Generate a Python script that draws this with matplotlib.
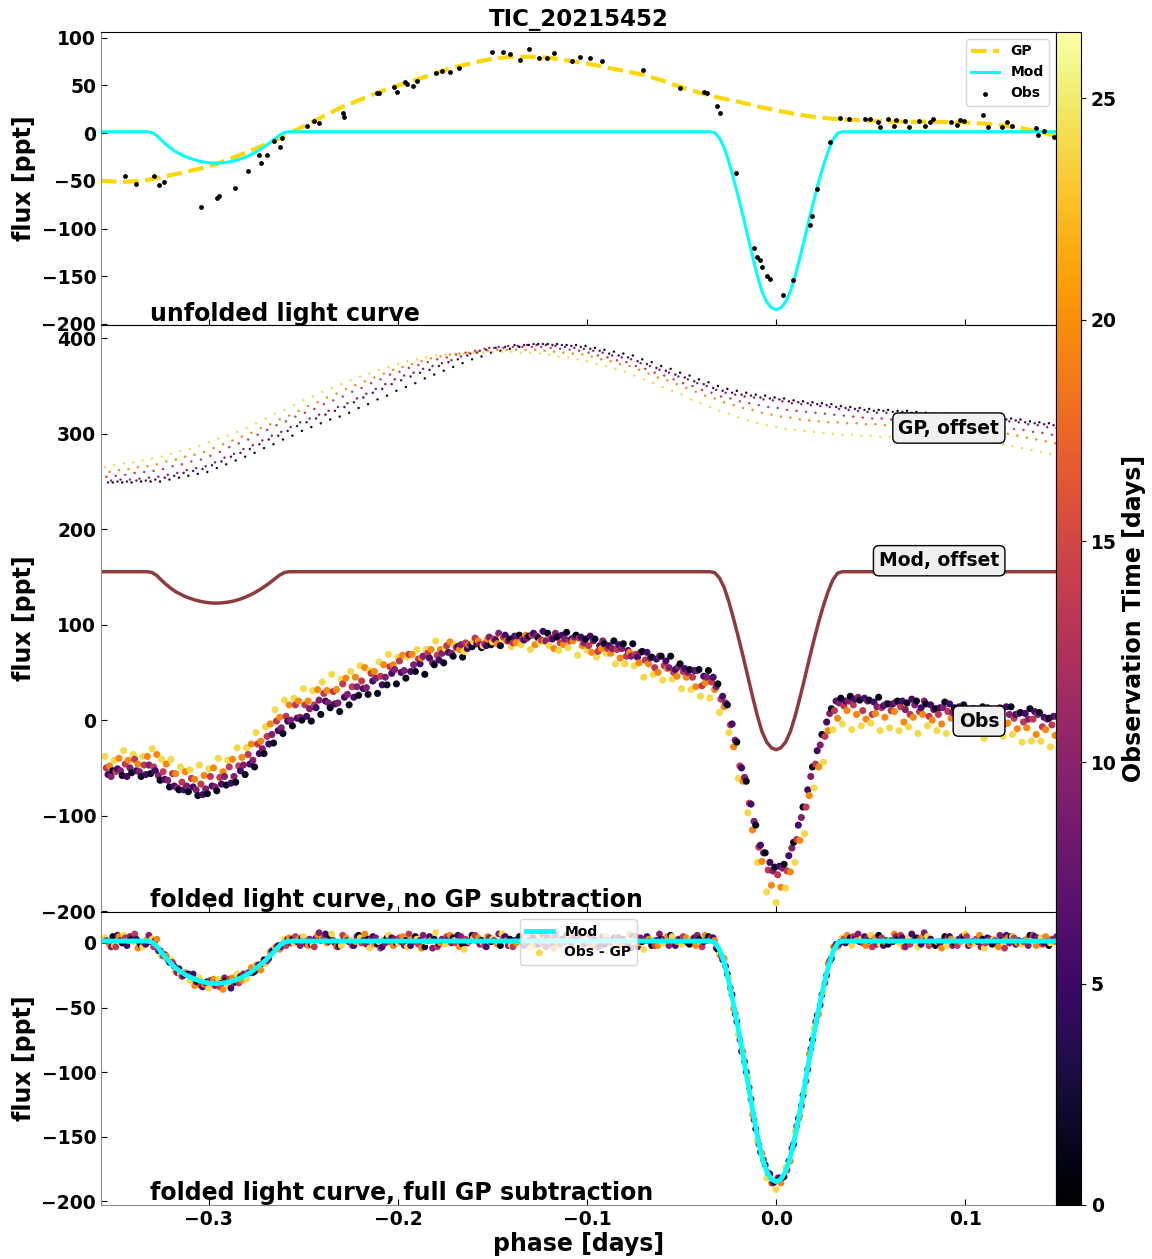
import numpy as np
import matplotlib.pyplot as plt

plt.rcParams['font.family'] = 'DejaVu Sans'
plt.rcParams['font.weight'] = 'bold'
plt.rcParams['axes.labelweight'] = 'bold'
plt.rcParams['axes.titleweight'] = 'bold'
plt.rcParams['font.size'] = 13.5

TITLE = 'TIC_20215452'
GP_OFFSET = 307   # offset of the GP tracks in the middle panel
MOD_OFFSET = 154  # offset of the model in the middle panel
T_MAX = 26.5      # end of the colour scale [days]

# ---- unfolded light curve (one stretch of data) ----
unf_phase = [-0.3444, -0.3386, -0.3291, -0.3265, -0.3238, -0.3042, -0.2958, -0.2947, -0.2862, -0.2794,
             -0.2735, -0.2725, -0.2693, -0.2656, -0.2624, -0.2614, -0.2481, -0.2444, -0.2418, -0.2291,
             -0.2286, -0.2111, -0.2101, -0.2021, -0.2005, -0.1963, -0.1952, -0.1921, -0.1899, -0.1799,
             -0.1767, -0.1725, -0.1677, -0.1503, -0.1444, -0.1407, -0.1354, -0.1307, -0.1254, -0.1212,
             -0.1175, -0.1079, -0.1037, -0.0984, -0.0921, -0.0704, -0.0508, -0.0381, -0.0365, -0.0312,
             -0.0296, -0.0212, -0.0116, -0.0101, -0.0085, -0.0074, -0.0048, -0.0032, 0.0037, 0.0090,
             0.0180, 0.0190, 0.0217, 0.0286, 0.0339, 0.0386, 0.0471, 0.0497, 0.0540, 0.0550,
             0.0593, 0.0624, 0.0635, 0.0683, 0.0704, 0.0757, 0.0788, 0.0815, 0.0831, 0.0926,
             0.0958, 0.0974, 0.0995, 0.1095, 0.1122, 0.1196, 0.1222, 0.1249, 0.1376, 0.1386,
             0.1418, 0.1471]
unf_flux = [-45.4, -53.8, -44.4, -54.8, -51.7, -77.7, -68.4, -66.3, -57.9, -40.2,
            -22.4, -30.8, -22.4, -7.8, -14.1, -4.7, 7.8, 13.0, 11.0, 21.4,
            17.2, 42.3, 42.3, 48.5, 43.3, 53.8, 51.7, 49.6, 54.8, 63.2,
            65.2, 64.2, 68.4, 85.1, 85.1, 83.0, 76.7, 88.2, 78.8, 78.8,
            84.0, 75.7, 79.9, 78.8, 75.7, 66.3, 47.5, 43.3, 42.3, 28.7,
            21.4, -41.3, -120.6, -130.0, -133.1, -140.4, -149.8, -153.0, -169.7, -154.0,
            -96.6, -87.2, -59.0, -9.0, 16.2, 15.1, 15.1, 15.1, 11.9, 6.7,
            15.1, 7.8, 14.1, 13.0, 6.7, 13.0, 7.8, 12.0, 15.1, 12.0,
            8.9, 14.1, 13.0, 19.3, 6.7, 6.7, 12.0, 7.8, 5.7, -1.6,
            2.6, -3.6]

unf_gp_phase = [-0.357, -0.345, -0.335, -0.325, -0.313, -0.30, -0.29, -0.28, -0.27, -0.26,
                -0.25, -0.24, -0.23, -0.22, -0.21, -0.20, -0.19, -0.18, -0.17, -0.16,
                -0.15, -0.14, -0.13, -0.12, -0.11, -0.10, -0.09, -0.08, -0.07, -0.06,
                -0.05, -0.04, -0.03, -0.02, -0.01, 0.0, 0.01, 0.02, 0.03, 0.04,
                0.05, 0.06, 0.08, 0.10, 0.11, 0.12, 0.13, 0.14, 0.148]
unf_gp_flux = [-50, -51, -50, -46, -41, -35, -28, -20, -12, -3,
               7, 17, 27, 35, 43, 50, 56, 63, 69, 74,
               78, 80, 80, 79, 76, 73, 69, 65, 61, 55,
               48, 42, 37, 33, 28, 24, 20, 17, 15, 14,
               13, 12, 12, 11, 10, 8, 5, 1, -3]

# ---- eclipse model ----
mod_phase = [-0.357,
             -0.3325, -0.330, -0.3275, -0.325, -0.3225, -0.320, -0.3175, -0.315, -0.3125, -0.310,
             -0.3075, -0.305, -0.3025, -0.300, -0.2975, -0.295, -0.2925, -0.290, -0.2875, -0.285,
             -0.2825, -0.280, -0.2775, -0.275, -0.2725, -0.270, -0.2675, -0.265, -0.2625, -0.260,
             -0.2575,
             -0.0350, -0.0325, -0.0300, -0.0275, -0.0250, -0.0225, -0.0200, -0.0175, -0.0150, -0.0125,
             -0.0100, -0.0075, -0.0050, -0.0025, 0.0, 0.0025, 0.0050, 0.0075, 0.0100, 0.0125,
             0.0150, 0.0175, 0.0200, 0.0225, 0.0250, 0.0275, 0.0300, 0.0325, 0.0350,
             0.148]
mod_flux = [1.5,
            1.5, 0.6, -2.5, -7.5, -12, -16, -19.5, -22, -24.5, -26.3,
            -28, -29.3, -30.3, -31, -31.4, -31.4, -31, -30.4, -29.5, -28.2,
            -26.6, -24.6, -22.3, -19.6, -16.6, -13.3, -9.7, -5.8, -2, 0.7,
            1.5,
            1.5, 0.5, -5, -15, -30, -48, -67, -87, -108, -129,
            -149, -166, -177, -183, -185, -183, -177, -166, -150, -131,
            -111, -90, -70, -51, -34, -19, -7, 0, 1.5,
            1.5]

# ---- folded data: phase grid, observation epochs and per-epoch GP / residuals ----
fold_phase = np.round(np.arange(-0.355, 0.1451, 0.005), 3)
epoch_time = [24.0, 19.5, 13.5, 9.5, 5.5, 1.5]
epoch_shift = [0.0, 0.0025, 0.0008, 0.0033, 0.0017, 0.0042]  # phase sampling of each epoch

gp_epochs = [
    [-42, -40, -38, -37, -35, -33, -31, -28, -25, -23,
     -20, -16, -12, -9, -5, -1, 4, 9, 14, 18,
     23, 28, 32, 37, 41, 45, 49, 53, 56, 60,
     63, 66, 69, 71, 73, 75, 76, 77, 77, 78,
     78, 79, 79, 79, 78, 78, 77, 76, 74, 73,
     71, 69, 66, 64, 61, 58, 54, 50, 46, 42,
     38, 34, 29, 25, 21, 17, 14, 10, 7, 4,
     2, 0, -2, -3, -4, -5, -6, -7, -8, -8,
     -9, -9, -10, -10, -11, -11, -11, -11, -12, -12,
     -12, -13, -14, -15, -16, -18, -20, -22, -24, -26,
     -28],
    [-47, -45, -44, -42, -41, -39, -36, -34, -31, -29,
     -26, -22, -18, -14, -10, -6, -1, 3, 8, 12,
     17, 22, 26, 31, 35, 40, 44, 48, 52, 56,
     60, 63, 66, 69, 72, 74, 76, 77, 78, 79,
     80, 81, 81, 81, 81, 81, 80, 79, 78, 77,
     76, 74, 71, 69, 66, 64, 60, 56, 52, 49,
     45, 41, 37, 33, 30, 26, 23, 20, 18, 15,
     13, 11, 10, 8, 7, 6, 5, 5, 4, 4,
     3, 3, 2, 2, 1, 1, 1, 0, 0, -1,
     -1, -2, -3, -4, -6, -7, -9, -11, -13, -15,
     -17],
    [-52, -51, -50, -48, -47, -46, -44, -41, -39, -36,
     -34, -30, -26, -21, -17, -13, -8, -3, 2, 6,
     11, 15, 19, 24, 28, 32, 37, 41, 46, 50,
     55, 58, 62, 65, 68, 71, 73, 76, 78, 80,
     82, 83, 83, 84, 84, 84, 84, 83, 82, 81,
     80, 78, 75, 73, 70, 68, 64, 61, 57, 54,
     50, 46, 43, 39, 36, 32, 30, 27, 25, 23,
     21, 20, 18, 17, 16, 15, 14, 13, 12, 11,
     10, 9, 9, 8, 8, 7, 6, 6, 5, 5,
     4, 3, 2, 2, 1, 0, -2, -3, -5, -6,
     -8],
    [-56, -55, -55, -54, -53, -52, -50, -48, -45, -43,
     -41, -37, -32, -28, -23, -19, -14, -9, -5, 0,
     5, 9, 13, 17, 21, 25, 30, 35, 40, 45,
     50, 54, 57, 61, 64, 67, 70, 74, 77, 80,
     83, 84, 85, 85, 86, 86, 86, 85, 84, 83,
     82, 80, 78, 75, 73, 71, 67, 64, 60, 57,
     53, 50, 46, 43, 39, 36, 34, 32, 31, 29,
     28, 27, 25, 24, 23, 22, 21, 19, 18, 17,
     16, 15, 15, 14, 14, 13, 12, 11, 11, 10,
     9, 8, 8, 7, 7, 6, 5, 3, 2, 0,
     -1],
    [-58, -57, -57, -56, -56, -55, -53, -51, -48, -46,
     -44, -40, -36, -31, -27, -23, -18, -13, -9, -4,
     1, 5, 9, 13, 17, 21, 26, 31, 36, 40,
     45, 49, 53, 57, 60, 64, 68, 71, 75, 78,
     81, 83, 84, 86, 86, 87, 87, 86, 86, 85,
     84, 82, 80, 77, 75, 73, 69, 66, 62, 59,
     55, 52, 48, 45, 41, 38, 36, 34, 33, 31,
     30, 29, 27, 26, 25, 24, 23, 21, 20, 19,
     18, 17, 17, 16, 16, 15, 14, 13, 13, 12,
     11, 10, 10, 9, 9, 8, 7, 5, 4, 3,
     2],
    [-58, -58, -58, -57, -57, -57, -55, -53, -51, -49,
     -47, -43, -39, -35, -31, -27, -22, -18, -13, -9,
     -4, 0, 4, 8, 11, 15, 20, 24, 29, 33,
     38, 42, 46, 51, 55, 59, 63, 67, 71, 74,
     78, 80, 82, 84, 86, 87, 87, 87, 86, 86,
     85, 83, 81, 79, 77, 75, 71, 68, 64, 61,
     57, 54, 50, 47, 43, 40, 38, 36, 34, 33,
     31, 30, 28, 27, 26, 25, 24, 22, 21, 20,
     19, 18, 18, 17, 17, 16, 15, 14, 14, 13,
     12, 11, 11, 10, 10, 9, 8, 6, 5, 4,
     3],
]

# Obs - GP for the same epochs
resid_epochs = [
    [4, -2, 6, 1, -3, 3, -10, -13, -24, -29,
     -27, -35, -28, -33, -24, -28, -17, -16, -3, 3,
     0, 5, -1, 3, 7, -2, 2, 4, -4, 1,
     6, 0, -3, 3, 1, 8, -1, 2, -5, 4,
     0, 3, 7, -2, 1, -4, 5, 2, -1, 3,
     -3, 4, 0, 6, -2, 1, 3, -5, 2, 0,
     5, -1, 3, 0, 2, -9, -27, -71, -104, -153,
     -182, -191, -174, -146, -115, -66, -38, -3, 4, -2,
     3, 6, -1, 2, 0, 4, -3, 5, 1, -2,
     2, 7, 0, -4, 3, 1, 5, -1, 2, 4,
     0],
    [-1, 5, 2, -4, 3, 3, -10, -22, -23, -33,
     -32, -28, -36, -27, -29, -19, -21, -7, -5, 4,
     3, -2, 6, 0, -3, 4, 1, 7, -1, 2,
     -2, 5, 3, -4, 2, 0, 6, -3, 1, 4,
     5, -1, 2, 0, 8, -2, 3, -4, 1, 6,
     2, -3, 4, 1, -1, 7, 0, 3, -2, 5,
     1, 4, -2, 6, 2, -12, -51, -84, -133, -163,
     -186, -186, -169, -134, -86, -55, -16, -3, 6, 2,
     -2, 4, 1, 7, -3, 2, 5, 0, -4, 3,
     1, -1, 6, 2, -3, 4, 0, 3, -2, 5,
     1],
    [2, -3, 4, 7, 0, -3, -10, -15, -26, -25,
     -33, -29, -34, -28, -31, -23, -17, -14, -3, -2,
     5, 1, -3, 4, 2, 6, -2, 0, 3, -4,
     1, 4, 7, -1, 2, -3, 5, 0, 3, 6,
     -2, 2, 4, -3, 1, 5, 0, 3, -1, 2,
     6, 0, -3, 2, 4, -1, 5, 2, -2, 3,
     0, 5, 2, -3, 4, -10, -35, -75, -112, -156,
     -178, -182, -176, -142, -107, -61, -31, -3, 3, 5,
     0, -3, 4, 2, 6, -1, 3, -2, 1, 4,
     -2, 5, 3, 0, 2, -4, 4, 1, 6, -1,
     3],
    [-3, 2, 5, 0, 6, -6, -13, -23, -24, -30,
     -31, -33, -27, -31, -24, -23, -16, -6, -3, 0,
     -2, 3, 8, 1, -3, 2, 5, -1, 4, 0,
     3, -2, 1, 6, -4, 3, 0, 5, 2, -1,
     4, 7, -2, 3, 0, 2, -3, 6, 1, 4,
     -1, 3, 5, 0, 2, -4, 4, 1, 7, -2,
     3, 0, 6, 2, -4, -18, -55, -92, -137, -168,
     -186, -182, -159, -126, -82, -48, -14, -1, 2, 7,
     4, -1, 2, 5, -3, 3, 8, 0, 2, -2,
     5, 1, -3, 3, 6, 0, 2, -2, 4, 1,
     5],
    [1, 6, -2, 3, -1, 2, -9, -18, -25, -24,
     -34, -29, -31, -35, -26, -23, -17, -12, -2, 3,
     1, -1, 4, 7, 0, 3, -2, 2, 5, -3,
     4, 1, -2, 2, 5, -1, 3, 6, 0, 2,
     -3, 1, 5, 2, -2, 4, 6, -1, 3, 0,
     3, 6, -2, 1, 4, 0, -3, 5, 2, 3,
     -2, 2, 4, 1, 4, -13, -40, -84, -121, -162,
     -179, -182, -169, -136, -98, -56, -25, -1, 0, 3,
     5, 2, -2, 1, 4, 7, -1, 3, 0, 5,
     3, -2, 1, 4, 0, 6, -1, 2, 5, 0,
     2],
    [5, 0, 3, -2, 1, -6, -15, -20, -24, -30,
     -30, -31, -29, -30, -26, -22, -13, -6, -1, 3,
     4, -1, 2, 5, -2, 1, 6, 3, -1, 4,
     0, 2, 5, -3, 3, 1, 4, -1, 6, 2,
     1, -2, 3, 5, 2, -1, 4, 0, 6, 3,
     0, 2, -1, 4, 3, 5, 1, -2, 3, 6,
     2, -1, 3, 5, -5, -24, -61, -100, -144, -172,
     -185, -181, -156, -118, -75, -40, -12, 1, 4, 1,
     2, 6, -1, 3, 1, 4, 2, -2, 5, 0,
     4, 1, 3, -1, 2, 5, 0, 6, 3, -2,
     1],
]

# flatten the epochs and sort by phase so the colours interleave
n = len(fold_phase)
all_phase = np.concatenate([fold_phase + s for s in epoch_shift])
all_time = np.repeat(epoch_time, n)
all_gp = np.concatenate([np.array(g, float) for g in gp_epochs])
all_res = np.concatenate([np.array(r, float) for r in resid_epochs])
all_obs = all_gp + all_res
order = np.argsort(all_phase, kind='stable')
all_phase, all_time = all_phase[order], all_time[order]
all_gp, all_res, all_obs = all_gp[order], all_res[order], all_obs[order]

mod_phase = np.array(mod_phase)
mod_flux = np.array(mod_flux)

fig = plt.figure(figsize=(11.52, 12.59), dpi=100)
ax1 = fig.add_axes([0.0877, 0.7419, 0.829, 0.2327])
ax2 = fig.add_axes([0.0877, 0.2756, 0.829, 0.4663], sharex=ax1)
ax3 = fig.add_axes([0.0877, 0.0429, 0.829, 0.2327], sharex=ax1)
cax = fig.add_axes([0.9167, 0.0429, 0.0217, 0.9317])

cmap = 'inferno'

# top: unfolded light curve
gp_line, = ax1.plot(unf_gp_phase, unf_gp_flux, '--', color='gold', lw=3, label='GP')
mod_line, = ax1.plot(mod_phase, mod_flux, color='cyan', lw=2.2, label='Mod')
obs_pts = ax1.scatter(unf_phase, unf_flux, s=12, color='black', lw=0, label='Obs', zorder=3)
ax1.legend(handles=[gp_line, mod_line, obs_pts], loc='upper right', fontsize=10)
ax1.set_ylim(-201, 106)
ax1.set_yticks([-200, -150, -100, -50, 0, 50, 100])
ax1.set_title(TITLE, fontsize=16.5, pad=4)
ax1.text(0.051, 0.013, 'unfolded light curve', transform=ax1.transAxes,
         fontsize=17, va='baseline')

# middle: folded, no GP subtraction
sc = ax2.scatter(all_phase, all_obs, c=all_time, cmap=cmap, vmin=0, vmax=T_MAX, s=26, lw=0)
ax2.scatter(all_phase, all_gp + GP_OFFSET, c=all_time, cmap=cmap, vmin=0, vmax=T_MAX, s=3, lw=0)
ax2.plot(mod_phase, mod_flux + MOD_OFFSET, color='#8e3b3d', lw=2.5)
ax2.set_ylim(-201, 414)
ax2.set_yticks([-200, -100, 0, 100, 200, 300, 400])
box = dict(boxstyle='round,pad=0.3', facecolor='#f0f0f0', edgecolor='black', lw=1)
for label, yv in [('GP, offset', 306), ('Mod, offset', 167), ('Obs', -1)]:
    ax2.text(0.118, yv, label, ha='right', va='center', fontsize=13.5, bbox=box)
ax2.text(0.051, 0.0085, 'folded light curve, no GP subtraction', transform=ax2.transAxes,
         fontsize=17, va='baseline')

# bottom: folded, full GP subtraction
res_pts = ax3.scatter(all_phase, all_res, c=all_time, cmap=cmap, vmin=0, vmax=T_MAX, s=24, lw=0,
                      label='Obs - GP')
mod_line3, = ax3.plot(mod_phase, mod_flux, color='cyan', lw=3.5, label='Mod')
ax3.legend(handles=[mod_line3, res_pts], loc='upper center', fontsize=10)
ax3.set_ylim(-203, 24)
ax3.set_yticks([-200, -150, -100, -50, 0])
ax3.set_xlim(-0.357, 0.148)
ax3.set_xticks([-0.3, -0.2, -0.1, 0.0, 0.1])
ax3.set_xlabel('phase [days]', fontsize=17, labelpad=2)
ax3.text(0.051, 0.017, 'folded light curve, full GP subtraction', transform=ax3.transAxes,
         fontsize=17, va='baseline')

for ax in (ax1, ax2, ax3):
    ax.set_ylabel('flux [ppt]', fontsize=17)
    ax.tick_params(direction='in', length=4, labelsize=13.5)
    ax.spines['left'].set_color('#8c8c8c')
    ax.spines['bottom'].set_color('#8c8c8c')
for ax in (ax1, ax2):
    ax.tick_params(labelbottom=False)

cbar = fig.colorbar(sc, cax=cax)
cbar.set_ticks([0, 5, 10, 15, 20, 25])
cbar.ax.tick_params(labelsize=13.5)
cbar.set_label('Observation Time [days]', fontsize=17)

fig.savefig('out.png', dpi=100)
